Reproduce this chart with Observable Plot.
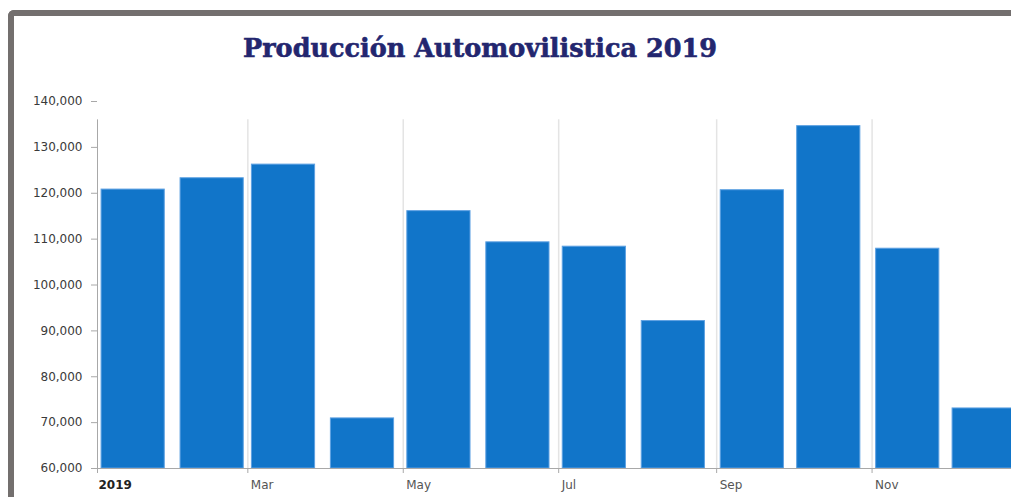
<!DOCTYPE html>
<html>
<head>
<meta charset="utf-8">
<script src="https://cdn.jsdelivr.net/npm/d3@7"></script>
<script src="https://cdn.jsdelivr.net/npm/@observablehq/plot@0.6"></script>
<style>
  html, body { margin: 0; padding: 0; background: #fff; overflow: hidden; width: 1011px; height: 497px; }
  #wrap { position: relative; width: 1011px; height: 497px; }
  #chart { position: absolute; left: 0; top: 0; }
  #frame { position: absolute; left: 8px; top: 10px; width: 1100px; height: 600px;
           border-left: 6px solid #736f6e; border-top: 6px solid #736f6e;
           border-top-left-radius: 6px; pointer-events: none; z-index: 2; }
  #title { position: absolute; left: 243px; top: 35px; white-space: nowrap; line-height: 1;
           font-family: "DejaVu Serif", "Liberation Serif", serif; font-weight: bold;
           font-size: 26px; color: #23266f; transform-origin: 0 0; z-index: 3;
           -webkit-text-stroke: 0.6px #23266f; }
</style>
</head>
<body>
<div id="wrap">
  <div id="chart"></div>
  <div id="frame"></div>
  <div id="title">Producción Automovilistica 2019</div>
</div>
<script>
// ---- data ----
const months = ["2019-01","2019-02","2019-03","2019-04","2019-05","2019-06",
                "2019-07","2019-08","2019-09","2019-10","2019-11","2019-12"];
const production = [120800, 123270, 126240, 70920, 116100, 109300,
                    108350, 92140, 120660, 134630, 107910, 73090];
const tickMonths = ["2019-01","2019-03","2019-05","2019-07","2019-09","2019-11"];
const tickLabels = ["2019","Mar","May","Jul","Sep","Nov"];
const yTicks = [60000, 70000, 80000, 90000, 100000, 110000, 120000, 130000, 140000];

// ---- config ----
const DAY = 864e5;
const barCenterOffsetDays = 14;
const barHalfWidthDays = 12.4;
const frameTopValue = 136000;   // top of the plotting frame (grid/axis line top)

const parse = s => new Date(s + "-01T00:00:00Z");
const data = months.map((m, i) => {
  const c = +parse(m) + barCenterOffsetDays * DAY;
  return { x1: new Date(c - barHalfWidthDays * DAY), x2: new Date(c + barHalfWidthDays * DAY), value: production[i] };
});
const ticks = tickMonths.map(parse);
const gridDates = ticks.slice(1);

const chart = Plot.plot({
  width: 1011,
  height: 497,
  marginLeft: 97,
  marginRight: 0,
  marginTop: 101,
  marginBottom: 29,
  style: { fontFamily: "DejaVu Sans, Verdana, sans-serif", fontSize: "12px", color: "#333", background: "transparent" },
  x: { type: "utc", domain: [parse("2019-01"), new Date(Date.UTC(2020, 0, 1))], range: [97, 1027], label: null },
  y: { domain: [60000, 140000], label: null },
  marks: [
    Plot.ruleX(gridDates, { y1: 60000, y2: frameTopValue, stroke: "#e4e4e4", strokeWidth: 1.5 }),
    Plot.rect(data, { x1: "x1", x2: "x2", y1: 60000, y2: "value", fill: "#1175c9", stroke: "#5ea1e2", strokeWidth: 1 }),
    Plot.ruleX([parse("2019-01")], { y1: 60000, y2: frameTopValue, stroke: "#a8a8a8", strokeWidth: 1 }),
    Plot.ruleY([60000], { stroke: "#a8a8a8", strokeWidth: 1 }),
    Plot.axisY({ ticks: yTicks, tickFormat: d3.format(","), tickSize: 6, tickPadding: 9, stroke: "#a8a8a8", fill: "#3a3a3a", fontSize: 12 }),
    Plot.axisX({ ticks: ticks, tickSize: 5, tickFormat: () => "", stroke: "#a8a8a8" }),
    Plot.text(tickLabels.slice(1), { x: (d, i) => ticks[i + 1], y: 60000, text: d => d, textAnchor: "start", dx: 3, dy: 17, fill: "#555", fontSize: 12 }),
    Plot.text(tickLabels.slice(0, 1), { x: ticks[0], y: 60000, text: d => d, textAnchor: "start", dx: 1, dy: 17, fill: "#222", fontSize: 12, fontWeight: "bold" })
  ]
});
chart.style.overflow = "hidden";
document.getElementById("chart").appendChild(chart);

// fit title to its width in the reference
const t = document.getElementById("title");
const w = t.getBoundingClientRect().width;
t.style.transform = `scaleX(${474 / w})`;
</script>
</body>
</html>
